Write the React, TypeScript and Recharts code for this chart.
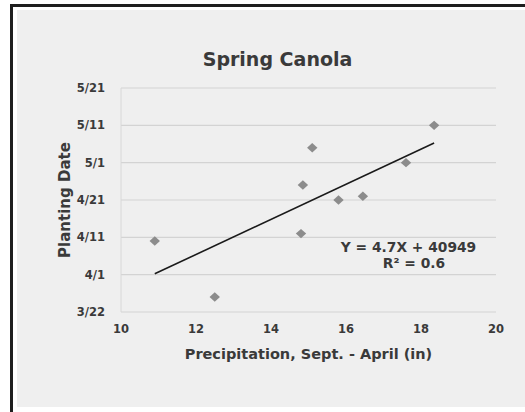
import React from 'react';
import { ScatterChart, Scatter, XAxis, YAxis, CartesianGrid, ReferenceLine } from 'recharts';

const precipitation = [10.9, 12.5, 14.8, 14.85, 15.1, 15.8, 16.45, 17.6, 18.35];
const plantingDates = ['4/10', '3/26', '4/12', '4/25', '5/5', '4/21', '4/22', '5/1', '5/11'];
const xTicks = [10, 12, 14, 16, 18, 20];
const yTickLabels = ['3/22', '4/1', '4/11', '4/21', '5/1', '5/11', '5/21'];
const trendSlope = 4.7;
const trendIntercept = 40949; // Excel serial date
const baseSerial = 40990; // 3/22 as Excel serial

const monthOffset: Record<number, number> = { 3: -22, 4: 9, 5: 39 };
const dayOffset = (s: string) => {
  const [m, d] = s.split('/').map(Number);
  return monthOffset[m] + d;
};

const yTicks = yTickLabels.map(dayOffset);
const points = precipitation.map((x, i) => ({ x, y: dayOffset(plantingDates[i]) }));
const xMin = Math.min(...precipitation);
const xMax = Math.max(...precipitation);
const trend = (x: number) => trendSlope * x + trendIntercept - baseSerial;

const FONT = '"DejaVu Sans", sans-serif';
const TEXT = '#3a3a3a';

const Diamond = (props: any) => {
  const { cx, cy } = props;
  return (
    <polygon
      points={`${cx},${cy - 4.7} ${cx + 5.2},${cy} ${cx},${cy + 4.7} ${cx - 5.2},${cy}`}
      fill="#8c8c8c"
    />
  );
};

export default function App() {
  return (
    <div style={{ position: 'absolute', left: 0, top: 0, width: 525, height: 412, overflow: 'hidden', background: '#fff' }}>
      <div
        style={{
          position: 'absolute', left: 10, top: 4, width: 540, height: 430,
          borderTop: '3px solid #1e1e1e', borderLeft: '3px solid #1e1e1e',
        }}
      />
      <div style={{ position: 'absolute', left: 17, top: 10, width: 520, height: 397, background: '#efefef' }} />
      <div style={{ position: 'absolute', left: 0, top: 0 }}>
        <ScatterChart width={525} height={412} margin={{ top: 88, right: 29, bottom: 70, left: 61 }}>
          <CartesianGrid vertical={false} stroke="#d3d3d3" strokeWidth={1.2} />
          <XAxis
            type="number"
            dataKey="x"
            domain={[10, 20]}
            ticks={xTicks}
            height={30}
            axisLine={false}
            tickLine={false}
            tickSize={0}
            tickMargin={13}
            tick={{ fill: TEXT, fontSize: 11.5, fontWeight: 'bold', fontFamily: FONT }}
            label={{
              content: (p: any) => (
                <text
                  x={p.viewBox.x + p.viewBox.width / 2}
                  y={359}
                  textAnchor="middle"
                  fill={TEXT}
                  fontSize={14.5}
                  fontWeight="bold"
                  fontFamily={FONT}
                >
                  Precipitation, Sept. - April (in)
                </text>
              ),
            }}
          />
          <YAxis
            type="number"
            dataKey="y"
            domain={[0, 60]}
            ticks={yTicks}
            width={60}
            axisLine={{ stroke: '#d8d8d8' }}
            tickLine={false}
            tickSize={0}
            tickMargin={16}
            tickFormatter={(v: number) => yTickLabels[yTicks.indexOf(v)]}
            tick={{ fill: TEXT, fontSize: 11.5, fontWeight: 'bold', fontFamily: FONT }}
            label={{
              content: (p: any) => (
                <text
                  x={70}
                  y={p.viewBox.y + p.viewBox.height / 2}
                  transform={`rotate(-90 70 ${p.viewBox.y + p.viewBox.height / 2})`}
                  textAnchor="middle"
                  fill={TEXT}
                  fontSize={15}
                  fontWeight="bold"
                  fontFamily={FONT}
                >
                  Planting Date
                </text>
              ),
            }}
          />
          <Scatter data={points} shape={Diamond} isAnimationActive={false} />
          <ReferenceLine
            segment={[{ x: xMin, y: trend(xMin) }, { x: xMax, y: trend(xMax) }]}
            stroke="#1a1a1a"
            strokeWidth={1.6}
            ifOverflow="visible"
          />
        </ScatterChart>
      </div>
      <svg width={525} height={412} style={{ position: 'absolute', left: 0, top: 0, pointerEvents: 'none' }}>
        <text x={277.5} y={66} textAnchor="middle" fill={TEXT} fontSize={19} fontWeight="bold" fontFamily={FONT}>
          Spring Canola
        </text>
        <text x={408.5} y={252} textAnchor="middle" fill={TEXT} fontSize={13.8} fontWeight="bold" fontFamily={FONT}>
          {`Y = ${trendSlope}X + ${trendIntercept}`}
        </text>
        <text x={414} y={268} textAnchor="middle" fill={TEXT} fontSize={13.8} fontWeight="bold" fontFamily={FONT}>
          R² = 0.6
        </text>
      </svg>
    </div>
  );
}
